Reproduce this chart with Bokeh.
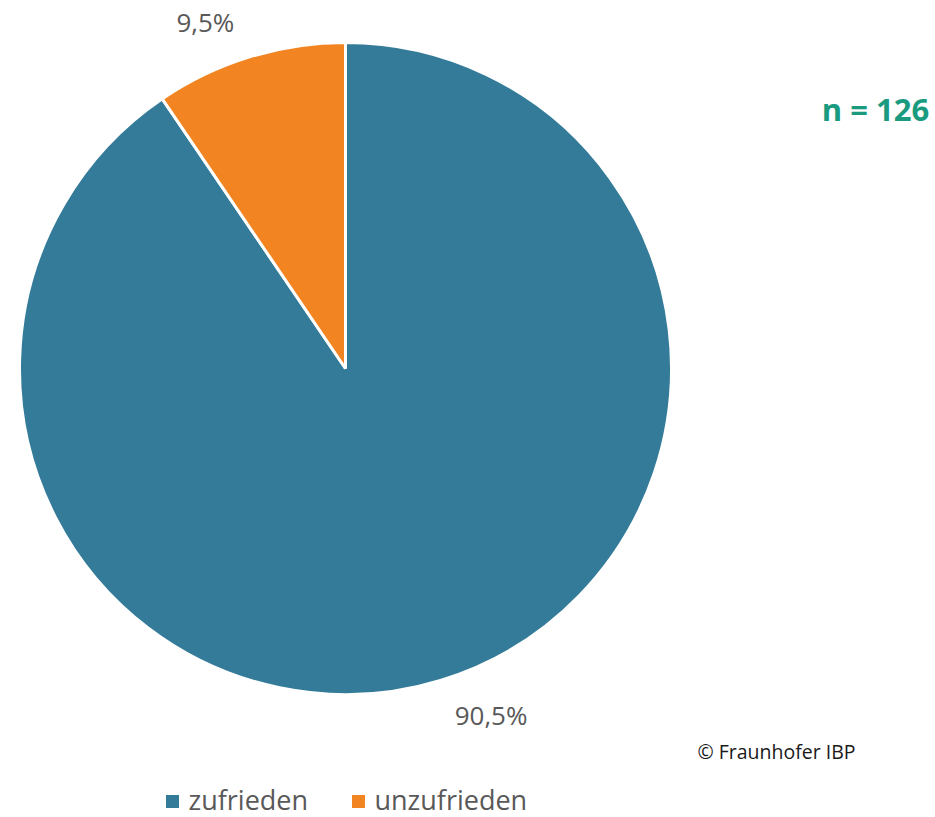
import math
from bokeh.plotting import figure
from bokeh.models import Range1d
from bokeh.core.properties import value
from bokeh.embed import file_html
from bokeh.resources import INLINE

# ---- data ----
categories = ["zufrieden", "unzufrieden"]
shares = [90.5, 9.5]
labels = ["90,5%", "9,5%"]
colors = ["#337b99", "#f28522"]
n_text = "n = 126"
credit = "© Fraunhofer IBP"

W, H = 935, 817
PAGE_H = 817
FONT = "Open Sans"

p = figure(width=W, height=H, output_backend="svg", toolbar_location=None,
           x_range=Range1d(0, W), y_range=Range1d(PAGE_H - H, PAGE_H),
           x_axis_location=None, y_axis_location=None, min_border=0)
p.outline_line_color = None
p.grid.visible = False
p.background_fill_color = "white"
p.border_fill_color = "white"

cx, cy, r = 345, PAGE_H - 368, 326

# wedges clockwise from 12 o'clock
total = sum(shares)
starts, ends, mids = [], [], []
acc = 0.0
for s in shares:
    a0 = math.pi / 2 - 2 * math.pi * acc / total
    a1 = math.pi / 2 - 2 * math.pi * (acc + s) / total
    starts.append(a1)
    ends.append(a0)
    mids.append((a0 + a1) / 2)
    acc += s

p.wedge(x=cx, y=cy, radius=r, start_angle=starts, end_angle=ends,
        fill_color=colors, line_color="white", line_width=3, direction="anticlock")

# labels outside end
lr = r + 18
lx, ly, al, bl = [], [], [], []
for m in mids:
    c, s = math.cos(m), math.sin(m)
    lx.append(cx + lr * c + (8 if c >= 0 else -10))
    ly.append(cy + lr * s)
    al.append("left" if c >= 0 else "right")
    bl.append("top" if s < 0 else "bottom")
for i in range(len(labels)):
    p.text(x=[lx[i]], y=[ly[i]], text=[labels[i]], text_align=al[i], text_baseline=bl[i],
           text_font=value(FONT), text_font_size="26px", text_color="#595959")

# n label
p.text(x=[875], y=[PAGE_H - 108], text=[n_text], text_align="center", text_baseline="middle",
       text_font=value(FONT), text_font_style="bold", text_font_size="31px", text_color="#1a9a7e")

# credit
p.text(x=[776], y=[PAGE_H - 751], text=[credit], text_align="center", text_baseline="middle",
       text_font=value(FONT), text_font_size="19.5px", text_color="#1a1a1a")

# legend
leg_x = [172, 358]
leg_y = PAGE_H - 799
p.scatter(x=leg_x, y=[leg_y - 2] * 2, marker="square", size=13, fill_color=colors, line_color=None)
p.text(x=[x + 16 for x in leg_x], y=[leg_y] * 2, text=categories, text_align="left",
       text_baseline="middle", text_font=value(FONT), text_font_size="27px", text_color="#595959")

open("out.html", "w").write(file_html(p, INLINE))
